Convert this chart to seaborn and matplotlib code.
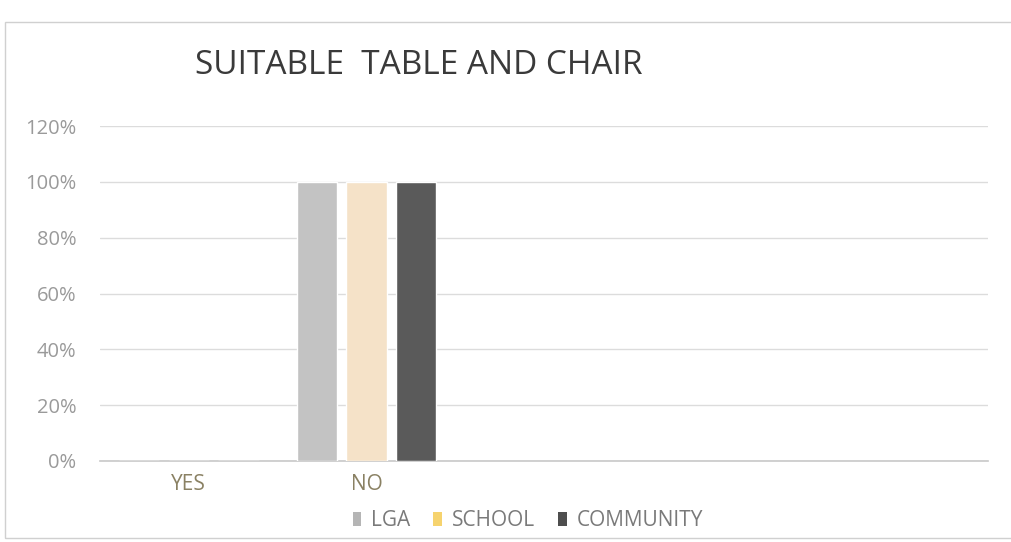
import matplotlib
matplotlib.use("Agg")
import matplotlib.pyplot as plt
from matplotlib.patches import Patch, Rectangle
import seaborn as sns
import pandas as pd

categories = ["YES", "NO"]
groups = ["LGA", "SCHOOL", "COMMUNITY"]
lga = [0.0, 1.0]
school = [0.0, 1.0]
community = [0.0, 1.0]
yticks = [0.0, 0.2, 0.4, 0.6, 0.8, 1.0, 1.2]
ytick_labels = ["0%", "20%", "40%", "60%", "80%", "100%", "120%"]
title = "SUITABLE  TABLE AND CHAIR"

bar_colors = {"LGA": "#c3c3c3", "SCHOOL": "#fde3c0", "COMMUNITY": "#5a5a5a"}
legend_colors = {"LGA": "#b5b5b5", "SCHOOL": "#f6d36e", "COMMUNITY": "#4e4e4e"}

rows = []
for g, vals in zip(groups, [lga, school, community]):
    for c, v in zip(categories, vals):
        rows.append({"category": c, "group": g, "value": v})
df = pd.DataFrame(rows)

sns.set_theme(style="white")
plt.rcParams["font.family"] = ["Open Sans", "DejaVu Sans"]

fig = plt.figure(figsize=(10.12, 5.42), dpi=100)
fig.patch.set_facecolor("white")
ax = fig.add_axes([100 / 1012, 1 - 461 / 542, 888 / 1012, (461 - 126) / 542])

sns.barplot(data=df, x="category", y="value", hue="group", order=categories,
            hue_order=groups, palette=bar_colors, width=0.84, gap=0.19,
            legend=False, ax=ax, zorder=3)

ax.set_xlim(-0.5, 4.5)
ax.set_ylim(0, 1.2)
ax.set_yticks(yticks)
ax.set_yticklabels(ytick_labels)
ax.yaxis.grid(True, color="#dcdcdc", linewidth=1.0, zorder=0)
ax.set_axisbelow(True)
for s in ["top", "right", "left"]:
    ax.spines[s].set_visible(False)
ax.spines["bottom"].set_color("#c8c8c8")
ax.spines["bottom"].set_linewidth(1.2)
ax.set_xlabel("")
ax.set_ylabel("")
ax.tick_params(axis="y", length=0, pad=17, labelsize=14.5, labelcolor="#9a9a9a")
ax.tick_params(axis="x", length=0, pad=9, labelsize=15, labelcolor="#8a8163")

fig.text(195 / 1012, 1 - 66 / 542, title, fontsize=24, color="#3a3a3a",
         ha="left", va="center")

handles = [Patch(facecolor=legend_colors[g], edgecolor="none", label=g) for g in groups]
leg = fig.legend(handles=handles, loc="center", bbox_to_anchor=(528 / 1012, 1 - 521 / 542),
                 ncol=3, frameon=False, fontsize=15, handlelength=0.4, handleheight=0.65,
                 handletextpad=0.5, columnspacing=1.1, borderpad=0)
for t in leg.get_texts():
    t.set_color("#7a7a7a")

fig.add_artist(Rectangle((5 / 1012, 1 - 538 / 542), 1.2, (538 - 22) / 542,
                         transform=fig.transFigure, fill=False,
                         edgecolor="#d0d0d0", linewidth=1.0))

fig.savefig("out.png", dpi=100, facecolor="white")
